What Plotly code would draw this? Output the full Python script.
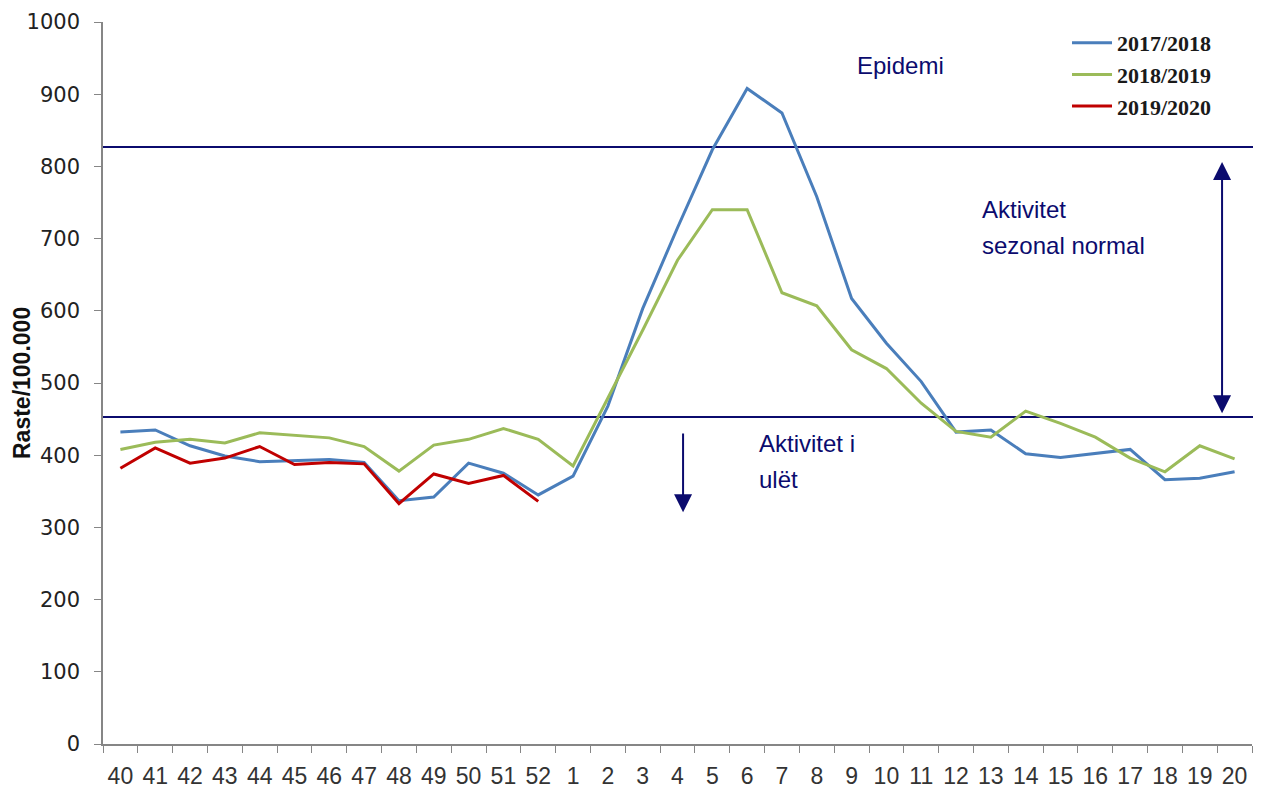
import plotly.graph_objects as go

weeks = ["40", "41", "42", "43", "44", "45", "46", "47", "48", "49", "50", "51", "52",
         "1", "2", "3", "4", "5", "6", "7", "8", "9", "10", "11", "12", "13", "14",
         "15", "16", "17", "18", "19", "20"]

s2017_2018 = [432, 435, 413, 399, 391, 392, 394, 390, 337, 342, 389, 375, 345,
              371, 468, 603, 715, 823, 908, 874, 758, 617, 555, 502, 432, 435, 402,
              397, 403, 408, 366, 368, 377]
s2018_2019 = [408, 418, 422, 417, 431, 428, 424, 412, 378, 414, 422, 437, 422,
              385, 478, 573, 670, 740, 740, 625, 607, 546, 520, 472, 433, 425, 461,
              444, 425, 396, 377, 413, 395]
s2019_2020 = [382, 410, 389, 396, 412, 387, 390, 388, 333, 374, 361, 372, 336]

series_names = ["2017/2018", "2018/2019", "2019/2020"]
series_colors = ["#4a7ebb", "#9bbb59", "#c00000"]

epidemic_threshold = 827
seasonal_threshold = 453

y_ticks = [0, 100, 200, 300, 400, 500, 600, 700, 800, 900, 1000]

NAVY = "#0b0b6e"

fig = go.Figure()
for name, vals, col in zip(series_names, [s2017_2018, s2018_2019, s2019_2020], series_colors):
    fig.add_trace(go.Scatter(
        x=weeks[:len(vals)], y=vals, mode="lines", name=name,
        legendgroup=name,
        line=dict(color=col, width=3),
    ))

for thr in [epidemic_threshold, seasonal_threshold]:
    fig.add_shape(type="line", xref="paper", yref="y", x0=0, x1=1.006,
                  y0=thr, y1=thr, line=dict(color=NAVY, width=2), layer="below")

# arrows
fig.add_annotation(x=31.64, y=806, ax=31.64, ay=456, xref="x", yref="y",
                   axref="x", ayref="y", showarrow=True, arrowhead=2,
                   startarrowhead=2, arrowside="end+start", arrowsize=1.8,
                   startarrowsize=1.8, arrowwidth=2, arrowcolor=NAVY, text="")
fig.add_annotation(x=16.16, y=321, ax=16.16, ay=432, xref="x", yref="y",
                   axref="x", ayref="y", showarrow=True, arrowhead=2,
                   arrowsize=1.8, arrowwidth=2, arrowcolor=NAVY, text="")

texts = [("Epidemi", 21.1, 940), ("Aktivitet", 24.69, 740),
         ("sezonal normal", 24.69, 690), ("Aktivitet i", 18.28, 416),
         ("ulët", 18.28, 367)]
for t, xx, yy in texts:
    fig.add_annotation(x=xx, y=yy, xref="x", yref="y", text=t, showarrow=False,
                       xanchor="left", yanchor="middle",
                       font=dict(family="Liberation Sans, Arial", size=24, color=NAVY))

# y-axis title
fig.add_annotation(x=-0.0705, y=500, xref="paper", yref="y", text="<b>Raste/100.000</b>",
                   textangle=-90, showarrow=False, xanchor="center", yanchor="middle",
                   font=dict(family="Liberation Sans, Arial", size=23, color="#111111"))

fig.update_layout(
    width=1261, height=789,
    margin=dict(l=95, r=17, t=14, b=53),
    plot_bgcolor="white", paper_bgcolor="white",
    showlegend=True,
    legend=dict(x=0.839, y=1.0, xanchor="left", yanchor="top",
                font=dict(family="Liberation Serif, Times New Roman", size=22,
                          color="#1a1a1a", weight="bold"),
                bgcolor="rgba(0,0,0,0)", tracegroupgap=10, itemwidth=40,
                traceorder="normal"),
    xaxis=dict(type="category", categoryorder="array", categoryarray=weeks,
               tickson="boundaries", ticks="outside", ticklen=7, tickcolor="#868686",
               showline=True, linecolor="#868686", linewidth=1.5, showgrid=False,
               zeroline=False, range=[-0.5, 32.5], tickangle=0, automargin=False,
               tickfont=dict(family="Liberation Sans, Arial", size=23, color="#333333"),
               ticklabelstandoff=11),
    yaxis=dict(range=[0, 1000], tickvals=y_ticks, ticks="outside", ticklen=7,
               tickcolor="#868686", showline=True, linecolor="#868686", linewidth=1.5,
               showgrid=False, zeroline=False, automargin=False,
               tickfont=dict(family="DejaVu Sans, Verdana", size=21, color="#222222"),
               ticklabelstandoff=10),
)

fig.write_html("out.html")
